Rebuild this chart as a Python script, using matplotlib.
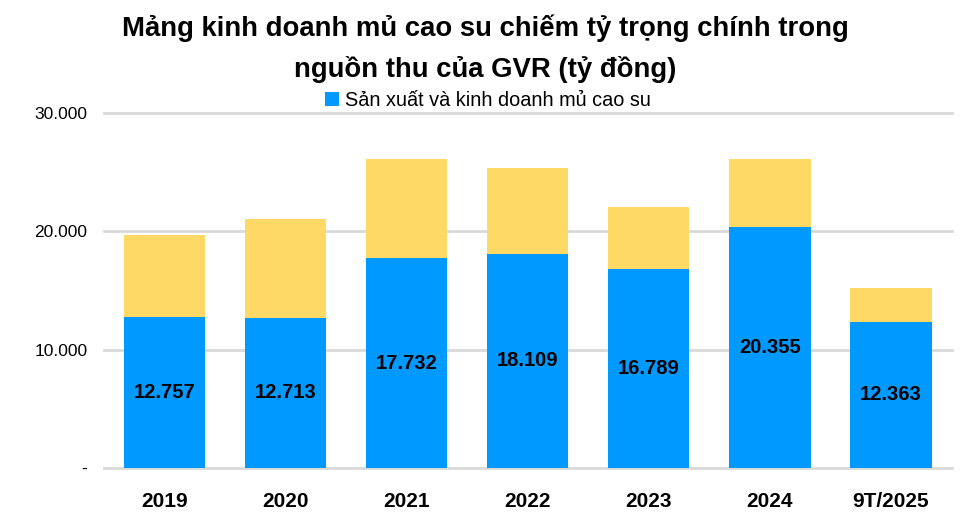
import matplotlib.pyplot as plt
import numpy as np

# dữ liệu (tỷ đồng)
years = ['2019', '2020', '2021', '2022', '2023', '2024', '9T/2025']
mu_cao_su = [12757, 12713, 17732, 18109, 16789, 20355, 12363]
khac = [6943, 8337, 8388, 7251, 5271, 5765, 2857]

BLUE = '#0099FF'
YELLOW = '#FFD966'
GRID = '#D9D9D9'

plt.rcParams['font.family'] = ['Liberation Sans', 'DejaVu Sans']

fig = plt.figure(figsize=(9.76, 5.27), dpi=100)
ax = fig.add_axes([0.1066, 0.112, 0.8684, 0.6736])

x = np.arange(len(years))
ax.bar(x, mu_cao_su, width=0.67, color=BLUE, label='Sản xuất và kinh doanh mủ cao su', zorder=3)
ax.bar(x, khac, width=0.67, bottom=mu_cao_su, color=YELLOW, zorder=3)

for xi, v in zip(x, mu_cao_su):
    ax.text(xi, v / 2, f"{v:,}".replace(',', '.'), ha='center', va='center',
            fontsize=14.5, fontweight='bold', color='black', zorder=4)

ax.set_xlim(-0.5, len(years) - 0.5)
ax.set_ylim(0, 30000)
ax.set_yticks([0, 10000, 20000, 30000])
ax.set_yticklabels(['-', '10.000', '20.000', '30.000'])
ax.yaxis.grid(True, color=GRID, linewidth=2, zorder=0)
for gl in ax.get_ygridlines():
    gl.set_clip_on(False)
ax.set_xticks(x)
ax.set_xticklabels(years, fontsize=15, fontweight='bold')
ax.tick_params(axis='x', length=0, pad=17)
ax.tick_params(axis='y', length=0, pad=12, labelsize=12.5)
for s in ax.spines.values():
    s.set_visible(False)

fig.text(0.497, 0.946, 'Mảng kinh doanh mủ cao su chiếm tỷ trọng chính trong',
         ha='center', va='center', fontsize=19.8, fontweight='bold')
fig.text(0.497, 0.868, 'nguồn thu của GVR (tỷ đồng)',
         ha='center', va='center', fontsize=19.8, fontweight='bold')

ax.legend(loc='center', bbox_to_anchor=(0.5, 0.81), bbox_transform=fig.transFigure,
          frameon=False, fontsize=14.3, handlelength=0.7, handleheight=0.7,
          handletextpad=0.3)

plt.savefig('out.png', dpi=100)
